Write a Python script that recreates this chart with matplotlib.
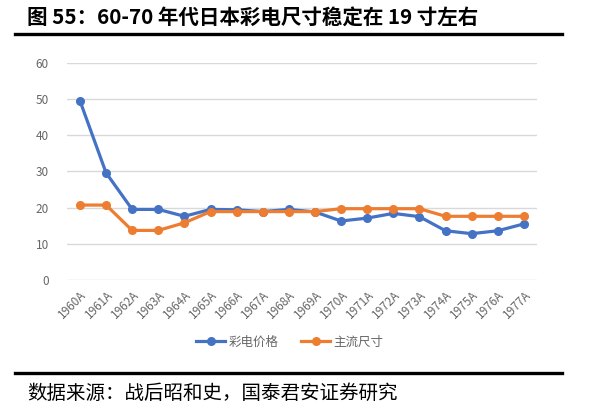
import matplotlib
matplotlib.use('Agg')
import matplotlib.pyplot as plt
from matplotlib.lines import Line2D

plt.rcParams['font.family'] = ['Noto Sans CJK SC', 'DejaVu Sans']

# data
years = ['1960A', '1961A', '1962A', '1963A', '1964A', '1965A', '1966A', '1967A', '1968A',
         '1969A', '1970A', '1971A', '1972A', '1973A', '1974A', '1975A', '1976A', '1977A']
price = [49.5, 29.6, 19.5, 19.5, 17.6, 19.5, 19.4, 18.9, 19.5,
         18.8, 16.3, 17.1, 18.4, 17.5, 13.6, 12.8, 13.6, 15.5]
size = [20.7, 20.7, 13.7, 13.7, 15.8, 18.9, 18.9, 18.9, 18.9,
        18.9, 19.7, 19.7, 19.7, 19.7, 17.6, 17.6, 17.6, 17.6]
yticks = [0, 10, 20, 30, 40, 50, 60]
series_names = ['彩电价格', '主流尺寸']

blue = '#4472C4'
orange = '#ED7D31'

fig = plt.figure(figsize=(5.92, 4.13), dpi=100)
ax = fig.add_axes([0.113, 0.322, 0.794, 0.526])

x = range(len(years))
ax.plot(x, price, color=blue, lw=2.3, marker='o', ms=5.5, zorder=3)
ax.plot(x, size, color=orange, lw=2.3, marker='o', ms=5.5, zorder=3)

ax.set_xlim(-0.5, len(years) - 0.5)
ax.set_ylim(0, 60)
ax.set_yticks(yticks)
ax.set_xticks(list(x))
ax.set_xticklabels(years, rotation=45, ha='right', rotation_mode='anchor')
ax.tick_params(axis='both', length=0, labelsize=8.5, labelcolor='#666666')
ax.tick_params(axis='y', pad=13)
ax.tick_params(axis='x', pad=6)
ax.grid(axis='y', color='#D9D9D9', lw=1)
ax.set_axisbelow(True)
for s in ax.spines.values():
    s.set_visible(False)

handles = [Line2D([], [], color=blue, lw=2.3, marker='o', ms=5.5),
           Line2D([], [], color=orange, lw=2.3, marker='o', ms=5.5)]
leg = fig.legend(handles, series_names, loc='center', bbox_to_anchor=(290 / 592, 1 - 342 / 413),
                 ncol=2, frameon=False, fontsize=9, handlelength=2.3, columnspacing=1.8,
                 handletextpad=0.3)
for t in leg.get_texts():
    t.set_color('#666666')

# title and source
fig.text(27 / 592, 1 - 18 / 413, '图 55：60-70 年代日本彩电尺寸稳定在 19 寸左右',
         fontsize=14.8, fontweight='bold', va='center', ha='left', color='black')
fig.add_artist(Line2D([15 / 592, 562 / 592], [1 - 34 / 413] * 2, color='black', lw=2.4))
fig.add_artist(Line2D([15 / 592, 562 / 592], [1 - 373 / 413] * 2, color='black', lw=2.4))
fig.text(27 / 592, 1 - 393 / 413, '数据来源：战后昭和史，国泰君安证券研究',
         fontsize=14, va='center', ha='left', color='black')

fig.savefig('out.png', dpi=100)
